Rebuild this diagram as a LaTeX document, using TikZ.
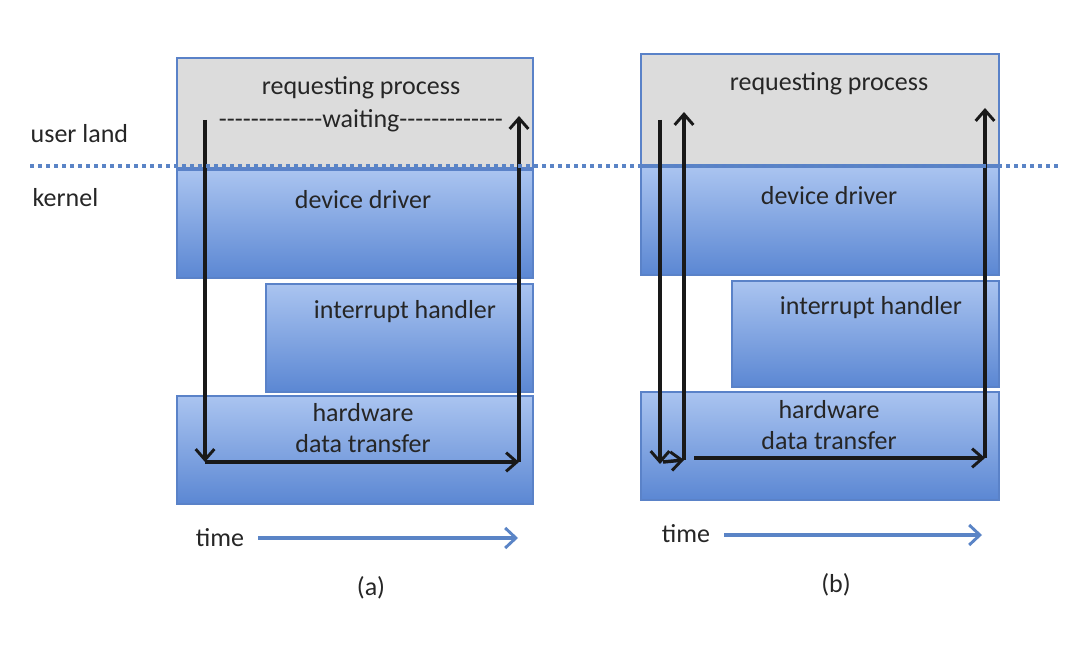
\documentclass[tikz,border=0pt]{standalone}
\usepackage{fontspec}
\setmainfont{Carlito}
\usetikzlibrary{arrows.meta}
\definecolor{bord}{HTML}{5A82C8}
\definecolor{btop}{HTML}{AAC4F0}
\definecolor{bbot}{HTML}{5B87D3}
\definecolor{gfill}{HTML}{DCDCDC}
\definecolor{tarr}{HTML}{5A84C6}
\newcommand\dsh{\mbox{-}}
\newcommand\dashes{\dsh\dsh\dsh\dsh\dsh\dsh\dsh\dsh\dsh\dsh\dsh\dsh\dsh}
\begin{document}
\begin{tikzpicture}[x=0.75pt,y=-0.75pt,
 every node/.style={font=\fontsize{19.5}{23.5}\selectfont, text=black!85},
 gray box/.style={fill=gfill, draw=bord, line width=1pt},
 blue box/.style={top color=btop, bottom color=bbot, draw=bord, line width=1pt},
 flow/.style={line width=2.6pt, black!90, -{Straight Barb[length=8pt,width=14pt,line width=2.2pt]}},
 timearr/.style={line width=2.6pt, tarr, -{Straight Barb[length=8pt,width=15pt,line width=2.2pt]}}]
\useasboundingbox (0,0) rectangle (1087,655);
% (a)
\draw[gray box] (177,58) rectangle (533,168);
\shade[blue box] (177,170) rectangle (533,278);
\shade[blue box] (266,284) rectangle (533,392);
\shade[blue box] (177,396) rectangle (533,504);
\node (rpa) at (361,88) {requesting process};
\node (wa) at (361,121) {\dashes waiting\dashes};
\node (dda) at (363,200) {device driver};
\node (iha) at (405,312) {interrupt handler};
\node[align=center, inner sep=0pt] (hwa) at (363,428) {hardware\\data transfer};
\coordinate (a1) at (205,120);
\coordinate (a2) at (205,462);
\coordinate (a3) at (519,462);
\coordinate (a4) at (519,116);
\draw[flow] (a1) -- (a2);
\draw[flow] (a2) -- (a3);
\draw[flow] (a3) -- (a4);
\node (ta) at (220,538) {time};
\coordinate (ta1) at (258,538);
\coordinate (ta2) at (518,538);
\draw[timearr] (ta1) -- (ta2);
\node (la) at (371,588) {(a)};
% (b)
\draw[gray box] (641,54) rectangle (999,165);
\shade[blue box] (641,167) rectangle (999,275);
\shade[blue box] (732,281) rectangle (999,387);
\shade[blue box] (641,392) rectangle (999,500);
\node (rpb) at (829,84) {requesting process};
\node (ddb) at (829,196) {device driver};
\node (ihb) at (871,308) {interrupt handler};
\node[align=center, inner sep=0pt] (hwb) at (829,425) {hardware\\data transfer};
\coordinate (b1) at (660,120);
\coordinate (b2) at (660,464);
\coordinate (b2a) at (663,462);
\coordinate (b3) at (684,460);
\coordinate (b4) at (684,112);
\coordinate (b5) at (694,458);
\coordinate (b6) at (985,458);
\coordinate (b7) at (985,108);
\draw[flow] (b1) -- (b2);
\draw[flow] (b2a) -- (b3);
\draw[flow] (b3) -- (b4);
\draw[flow] (b5) -- (b6);
\draw[flow] (b6) -- (b7);
\node (tb) at (686,534) {time};
\coordinate (tb1) at (724,535);
\coordinate (tb2) at (982,535);
\draw[timearr] (tb1) -- (tb2);
\node (lb) at (836,585) {(b)};
% divider
\coordinate (d1) at (30,166);
\coordinate (d2) at (1060,166);
\draw[tarr, line width=3pt, dash pattern=on 3pt off 3pt] (d1) -- (d2);
\node[anchor=west] (ul) at (26,134) {user land};
\node[anchor=west] (kn) at (28,198) {kernel};
\end{tikzpicture}
\end{document}
